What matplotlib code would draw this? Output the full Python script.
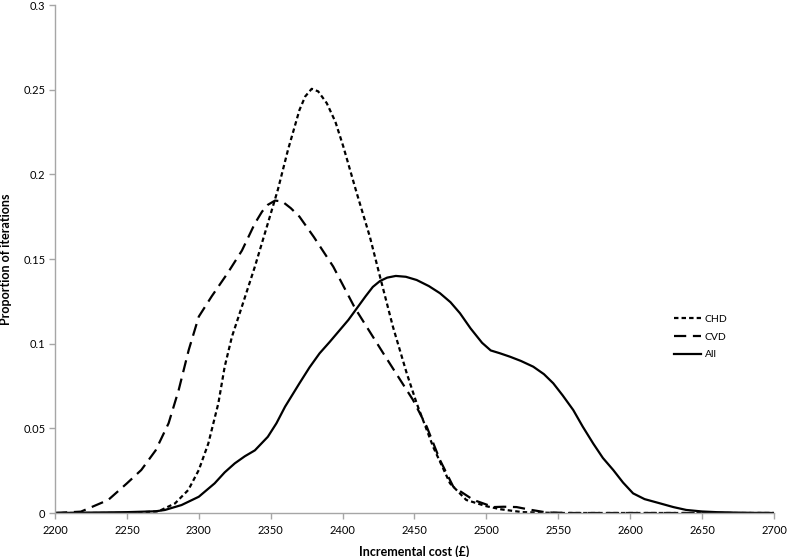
import matplotlib
matplotlib.use("Agg")
import matplotlib.pyplot as plt

plt.rcParams['font.family'] = ['Lato', 'DejaVu Sans']

chd_x = [2200, 2250, 2272, 2283.5, 2292.7, 2300, 2306.6, 2313.6, 2318, 2323, 2330, 2339, 2348, 2355,
         2362, 2370, 2374, 2378.5, 2383, 2389, 2395, 2400.5, 2409.8, 2419, 2426, 2435, 2444.6, 2451.5,
         2463, 2474.7, 2486, 2500, 2510, 2525, 2550, 2700]
chd_y = [0, 0, 0.001, 0.0057, 0.0136, 0.0254, 0.041, 0.0648, 0.0864, 0.104, 0.122, 0.1455, 0.171, 0.191,
         0.2144, 0.238, 0.246, 0.2505, 0.249, 0.242, 0.231, 0.2164, 0.189, 0.163, 0.1396, 0.110, 0.0825,
         0.0648, 0.039, 0.0175, 0.0077, 0.004, 0.0022, 0.0005, 0, 0]

cvd_x = [2200, 2218, 2237, 2250, 2260, 2270, 2279, 2286, 2293, 2300, 2309, 2320, 2330, 2339, 2344,
         2348, 2353, 2358, 2364, 2370, 2380, 2393.5, 2408.6, 2428.3, 2449, 2458.5, 2467.7, 2477, 2491,
         2505, 2512, 2521, 2530, 2542, 2560, 2600, 2700]
cvd_y = [0, 0.0008, 0.0077, 0.0175, 0.0254, 0.037, 0.053, 0.0726, 0.0963, 0.116, 0.128, 0.1416, 0.155,
         0.171, 0.178, 0.182, 0.1845, 0.184, 0.180, 0.175, 0.163, 0.1455, 0.121, 0.0943, 0.0667, 0.051,
         0.0313, 0.0155, 0.0077, 0.0035, 0.0037, 0.0035, 0.002, 0.0003, 0, 0, 0]

all_x = [2200, 2250, 2270, 2276.5, 2288, 2300, 2311, 2318, 2325, 2332, 2339, 2348, 2354, 2360, 2370,
         2377, 2384, 2391, 2398, 2404, 2410, 2416, 2421, 2426, 2431, 2437, 2444, 2451.5, 2460, 2467.7,
         2475, 2481.6, 2489, 2497, 2503, 2509.5, 2516.4, 2524, 2532.6, 2540, 2546.5, 2553, 2560.4,
         2567, 2574.3, 2581, 2588.2, 2595, 2602, 2610, 2620.7, 2630, 2639, 2650, 2660, 2680, 2700]
all_y = [0, 0.0005, 0.001, 0.0018, 0.0047, 0.0096, 0.0175, 0.024, 0.0293, 0.0335, 0.037, 0.045, 0.053,
         0.0628, 0.0766, 0.086, 0.0943, 0.101, 0.108, 0.114, 0.121, 0.128, 0.1335, 0.137, 0.139, 0.140,
         0.1395, 0.1376, 0.134, 0.1298, 0.1245, 0.118, 0.109, 0.1005, 0.096, 0.0943, 0.0923, 0.0898,
         0.0864, 0.082, 0.0766, 0.0695, 0.0608, 0.051, 0.041, 0.0325, 0.0254, 0.018, 0.0116, 0.0082,
         0.0057, 0.0035, 0.0018, 0.0009, 0.0005, 0.0001, 0]

x_ticks = [2200, 2250, 2300, 2350, 2400, 2450, 2500, 2550, 2600, 2650, 2700]
y_ticks = [0, 0.05, 0.1, 0.15, 0.2, 0.25, 0.3]
y_labels = ['0', '0.05', '0.1', '0.15', '0.2', '0.25', '0.3']

fig = plt.figure(figsize=(7.87, 5.57), dpi=100)
ax = fig.add_axes([55/787, 1-513/557, (774-55)/787, (513-5)/557])

lw = 1.6
ax.plot(chd_x, chd_y, color='black', lw=lw, dashes=(2.0, 1.4), label='CHD')
ax.plot(cvd_x, cvd_y, color='black', lw=lw, dashes=(5.5, 3.0), label='CVD')
ax.plot(all_x, all_y, color='black', lw=lw, label='All')

ax.set_xlim(2200, 2700)
ax.set_ylim(0, 0.3)
ax.set_xticks(x_ticks)
ax.set_xticklabels([str(v) for v in x_ticks])
ax.set_yticks(y_ticks)
ax.set_yticklabels(y_labels)

for s in ['top', 'right']:
    ax.spines[s].set_visible(False)
for s in ['left', 'bottom']:
    ax.spines[s].set_color('#a6a6a6')
    ax.spines[s].set_linewidth(1.0)
ax.tick_params(axis='both', colors='#a6a6a6', labelcolor='black', labelsize=8, length=4, width=1.0,
               direction='out')
ax.tick_params(axis='x', pad=5)
ax.tick_params(axis='y', pad=3)

ax.set_xlabel('Incremental cost (£)', fontsize=9, fontweight='bold', labelpad=6)
ax.set_ylabel('Proportion of iterations', fontsize=9, fontweight='bold', labelpad=8)

leg = ax.legend(loc='center left', bbox_to_anchor=((665-55)/719, (513-337)/508), frameon=False,
                fontsize=7.5, handlelength=2.6, handletextpad=0.3, labelspacing=0.8)

fig.savefig('out.png', dpi=100)
